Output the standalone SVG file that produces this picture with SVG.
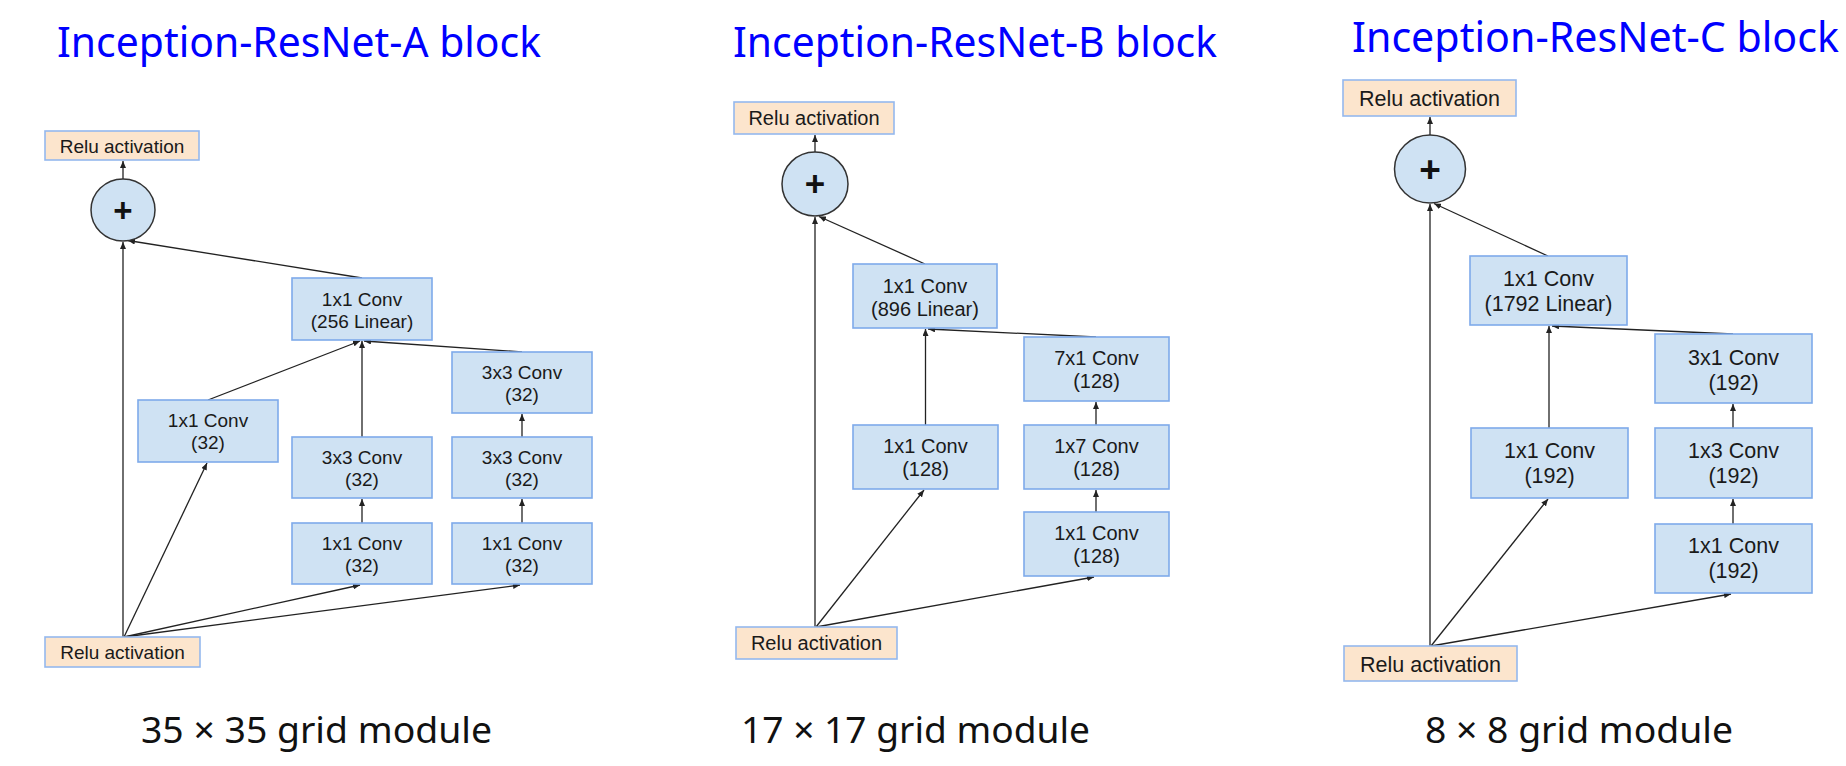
<svg xmlns="http://www.w3.org/2000/svg" width="1846" height="766" viewBox="0 0 1846 766">
<style>
.bg{fill:#ffffff}
.box{fill:#cfe2f3;stroke:#7eaaea;stroke-width:1.6}
.relu{fill:#fce5cd;stroke:#94b8ee;stroke-width:1.6}
.sum{fill:#cfe2f3;stroke:#333333;stroke-width:1.5}
.t{font-family:"Liberation Sans",Arial,sans-serif;fill:#1a1a1a;text-anchor:middle}
.plus{font-family:"Liberation Sans",Arial,sans-serif;font-weight:bold;fill:#111;text-anchor:middle}
.title{font-family:"Noto Sans","Open Sans",sans-serif;fill:#0000ff;font-size:42px}
.cap{font-family:"Noto Sans","Open Sans",sans-serif;fill:#111;font-size:36px;text-anchor:middle}
.edge{stroke:#222;stroke-width:1.3;fill:none;marker-end:url(#ah)}
</style>
<defs>
<marker id="ah" markerUnits="userSpaceOnUse" markerWidth="7" markerHeight="6" refX="7" refY="3" orient="auto">
<path d="M0,0 L7,3 L0,6 z" fill="#222"/>
</marker>
</defs>
<rect class="bg" x="0" y="0" width="1846" height="766"/>

<text class="title" x="57" y="57" textLength="484" lengthAdjust="spacingAndGlyphs">Inception-ResNet-A block</text>
<text class="title" x="733" y="57" textLength="484" lengthAdjust="spacingAndGlyphs">Inception-ResNet-B block</text>
<text class="title" x="1352" y="52" textLength="487" lengthAdjust="spacingAndGlyphs">Inception-ResNet-C block</text>

<text class="cap" x="316.5" y="743" textLength="351" lengthAdjust="spacingAndGlyphs">35 × 35 grid module</text>
<text class="cap" x="915.5" y="743" textLength="349" lengthAdjust="spacingAndGlyphs">17 × 17 grid module</text>
<text class="cap" x="1579" y="743" textLength="308" lengthAdjust="spacingAndGlyphs">8 × 8 grid module</text>

<g id="connectors">
<!-- A -->
<line class="edge" x1="123" y1="179" x2="123" y2="161"/>
<line class="edge" x1="362" y1="278" x2="128" y2="240.5"/>
<line class="edge" x1="208" y1="400" x2="360" y2="341"/>
<line class="edge" x1="362" y1="437" x2="362" y2="341"/>
<line class="edge" x1="522" y1="352" x2="364" y2="341"/>
<line class="edge" x1="362" y1="523" x2="362" y2="499"/>
<line class="edge" x1="522" y1="523" x2="522" y2="499"/>
<line class="edge" x1="522" y1="437" x2="522" y2="414"/>
<line class="edge" x1="124" y1="637" x2="207" y2="463"/>
<line class="edge" x1="124" y1="637" x2="360" y2="585"/>
<line class="edge" x1="124" y1="637" x2="520" y2="585"/>
<line class="edge" x1="123" y1="637" x2="123" y2="242"/>
<!-- B -->
<line class="edge" x1="815" y1="152" x2="815" y2="135"/>
<line class="edge" x1="925" y1="264" x2="819" y2="216.5"/>
<line class="edge" x1="925.5" y1="425" x2="925.5" y2="329"/>
<line class="edge" x1="1096" y1="337" x2="928" y2="329"/>
<line class="edge" x1="1096" y1="425" x2="1096" y2="402"/>
<line class="edge" x1="1096" y1="512" x2="1096" y2="490"/>
<line class="edge" x1="816" y1="627" x2="924" y2="490"/>
<line class="edge" x1="816" y1="627" x2="1094" y2="577"/>
<line class="edge" x1="815" y1="627" x2="815" y2="217"/>
<!-- C -->
<line class="edge" x1="1430" y1="135" x2="1430" y2="117"/>
<line class="edge" x1="1548" y1="256" x2="1434" y2="203.5"/>
<line class="edge" x1="1549" y1="428" x2="1549" y2="326"/>
<line class="edge" x1="1733" y1="334" x2="1552" y2="326"/>
<line class="edge" x1="1733" y1="428" x2="1733" y2="404"/>
<line class="edge" x1="1733" y1="524" x2="1733" y2="499"/>
<line class="edge" x1="1431" y1="646" x2="1548" y2="499"/>
<line class="edge" x1="1431" y1="646" x2="1731" y2="594"/>
<line class="edge" x1="1430" y1="646" x2="1430" y2="204"/>
</g>

<!-- Panel A -->
<g id="a_relu_top"><rect class="relu" x="45" y="131" width="154" height="29"/><text class="t" x="122" y="152.5" font-size="19">Relu activation</text></g>
<g id="a_sum"><ellipse class="sum" cx="123" cy="210" rx="32" ry="31"/><text class="plus" x="123" y="221.5" font-size="33">+</text></g>
<g id="a_linear"><rect class="box" x="292" y="278" width="140" height="62"/><text class="t" x="362" y="305.5" font-size="19">1x1 Conv</text><text class="t" x="362" y="327.5" font-size="19">(256 Linear)</text></g>
<g id="a_b1"><rect class="box" x="138" y="400" width="140" height="62"/><text class="t" x="208" y="427" font-size="19">1x1 Conv</text><text class="t" x="208" y="449" font-size="19">(32)</text></g>
<g id="a_b2_3x3"><rect class="box" x="292" y="437" width="140" height="61"/><text class="t" x="362" y="464" font-size="19">3x3 Conv</text><text class="t" x="362" y="486" font-size="19">(32)</text></g>
<g id="a_b2_1x1"><rect class="box" x="292" y="523" width="140" height="61"/><text class="t" x="362" y="550" font-size="19">1x1 Conv</text><text class="t" x="362" y="572" font-size="19">(32)</text></g>
<g id="a_b3_3x3_top"><rect class="box" x="452" y="352" width="140" height="61"/><text class="t" x="522" y="379" font-size="19">3x3 Conv</text><text class="t" x="522" y="401" font-size="19">(32)</text></g>
<g id="a_b3_3x3_mid"><rect class="box" x="452" y="437" width="140" height="61"/><text class="t" x="522" y="464" font-size="19">3x3 Conv</text><text class="t" x="522" y="486" font-size="19">(32)</text></g>
<g id="a_b3_1x1"><rect class="box" x="452" y="523" width="140" height="61"/><text class="t" x="522" y="550" font-size="19">1x1 Conv</text><text class="t" x="522" y="572" font-size="19">(32)</text></g>
<g id="a_relu_bottom"><rect class="relu" x="45" y="637" width="155" height="30"/><text class="t" x="122.5" y="659" font-size="19">Relu activation</text></g>

<!-- Panel B -->
<g id="b_relu_top"><rect class="relu" x="734" y="102" width="160" height="32"/><text class="t" x="814" y="125" font-size="20">Relu activation</text></g>
<g id="b_sum"><ellipse class="sum" cx="815" cy="184" rx="33" ry="32"/><text class="plus" x="815" y="196" font-size="35">+</text></g>
<g id="b_linear"><rect class="box" x="853" y="264" width="144" height="64"/><text class="t" x="925" y="293" font-size="20">1x1 Conv</text><text class="t" x="925" y="316" font-size="20">(896 Linear)</text></g>
<g id="b_b1"><rect class="box" x="853" y="425" width="145" height="64"/><text class="t" x="925.5" y="453" font-size="20">1x1 Conv</text><text class="t" x="925.5" y="476" font-size="20">(128)</text></g>
<g id="b_b2_7x1"><rect class="box" x="1024" y="337" width="145" height="64"/><text class="t" x="1096.5" y="365" font-size="20">7x1 Conv</text><text class="t" x="1096.5" y="388" font-size="20">(128)</text></g>
<g id="b_b2_1x7"><rect class="box" x="1024" y="425" width="145" height="64"/><text class="t" x="1096.5" y="453" font-size="20">1x7 Conv</text><text class="t" x="1096.5" y="476" font-size="20">(128)</text></g>
<g id="b_b2_1x1"><rect class="box" x="1024" y="512" width="145" height="64"/><text class="t" x="1096.5" y="540" font-size="20">1x1 Conv</text><text class="t" x="1096.5" y="563" font-size="20">(128)</text></g>
<g id="b_relu_bottom"><rect class="relu" x="736" y="627" width="161" height="32"/><text class="t" x="816.5" y="650" font-size="20">Relu activation</text></g>

<!-- Panel C -->
<g id="c_relu_top"><rect class="relu" x="1343" y="80" width="173" height="36"/><text class="t" x="1429.5" y="106" font-size="21.5">Relu activation</text></g>
<g id="c_sum"><ellipse class="sum" cx="1430" cy="169" rx="35.5" ry="34"/><text class="plus" x="1430" y="182" font-size="37">+</text></g>
<g id="c_linear"><rect class="box" x="1470" y="256" width="157" height="69"/><text class="t" x="1548.5" y="286" font-size="21.5">1x1 Conv</text><text class="t" x="1548.5" y="311" font-size="21.5">(1792 Linear)</text></g>
<g id="c_b1"><rect class="box" x="1471" y="428" width="157" height="70"/><text class="t" x="1549.5" y="458" font-size="21.5">1x1 Conv</text><text class="t" x="1549.5" y="483" font-size="21.5">(192)</text></g>
<g id="c_b2_3x1"><rect class="box" x="1655" y="334" width="157" height="69"/><text class="t" x="1733.5" y="365" font-size="21.5">3x1 Conv</text><text class="t" x="1733.5" y="390" font-size="21.5">(192)</text></g>
<g id="c_b2_1x3"><rect class="box" x="1655" y="428" width="157" height="70"/><text class="t" x="1733.5" y="458" font-size="21.5">1x3 Conv</text><text class="t" x="1733.5" y="483" font-size="21.5">(192)</text></g>
<g id="c_b2_1x1"><rect class="box" x="1655" y="524" width="157" height="69"/><text class="t" x="1733.5" y="553" font-size="21.5">1x1 Conv</text><text class="t" x="1733.5" y="578" font-size="21.5">(192)</text></g>
<g id="c_relu_bottom"><rect class="relu" x="1344" y="646" width="173" height="35"/><text class="t" x="1430.5" y="672" font-size="21.5">Relu activation</text></g>
</svg>
